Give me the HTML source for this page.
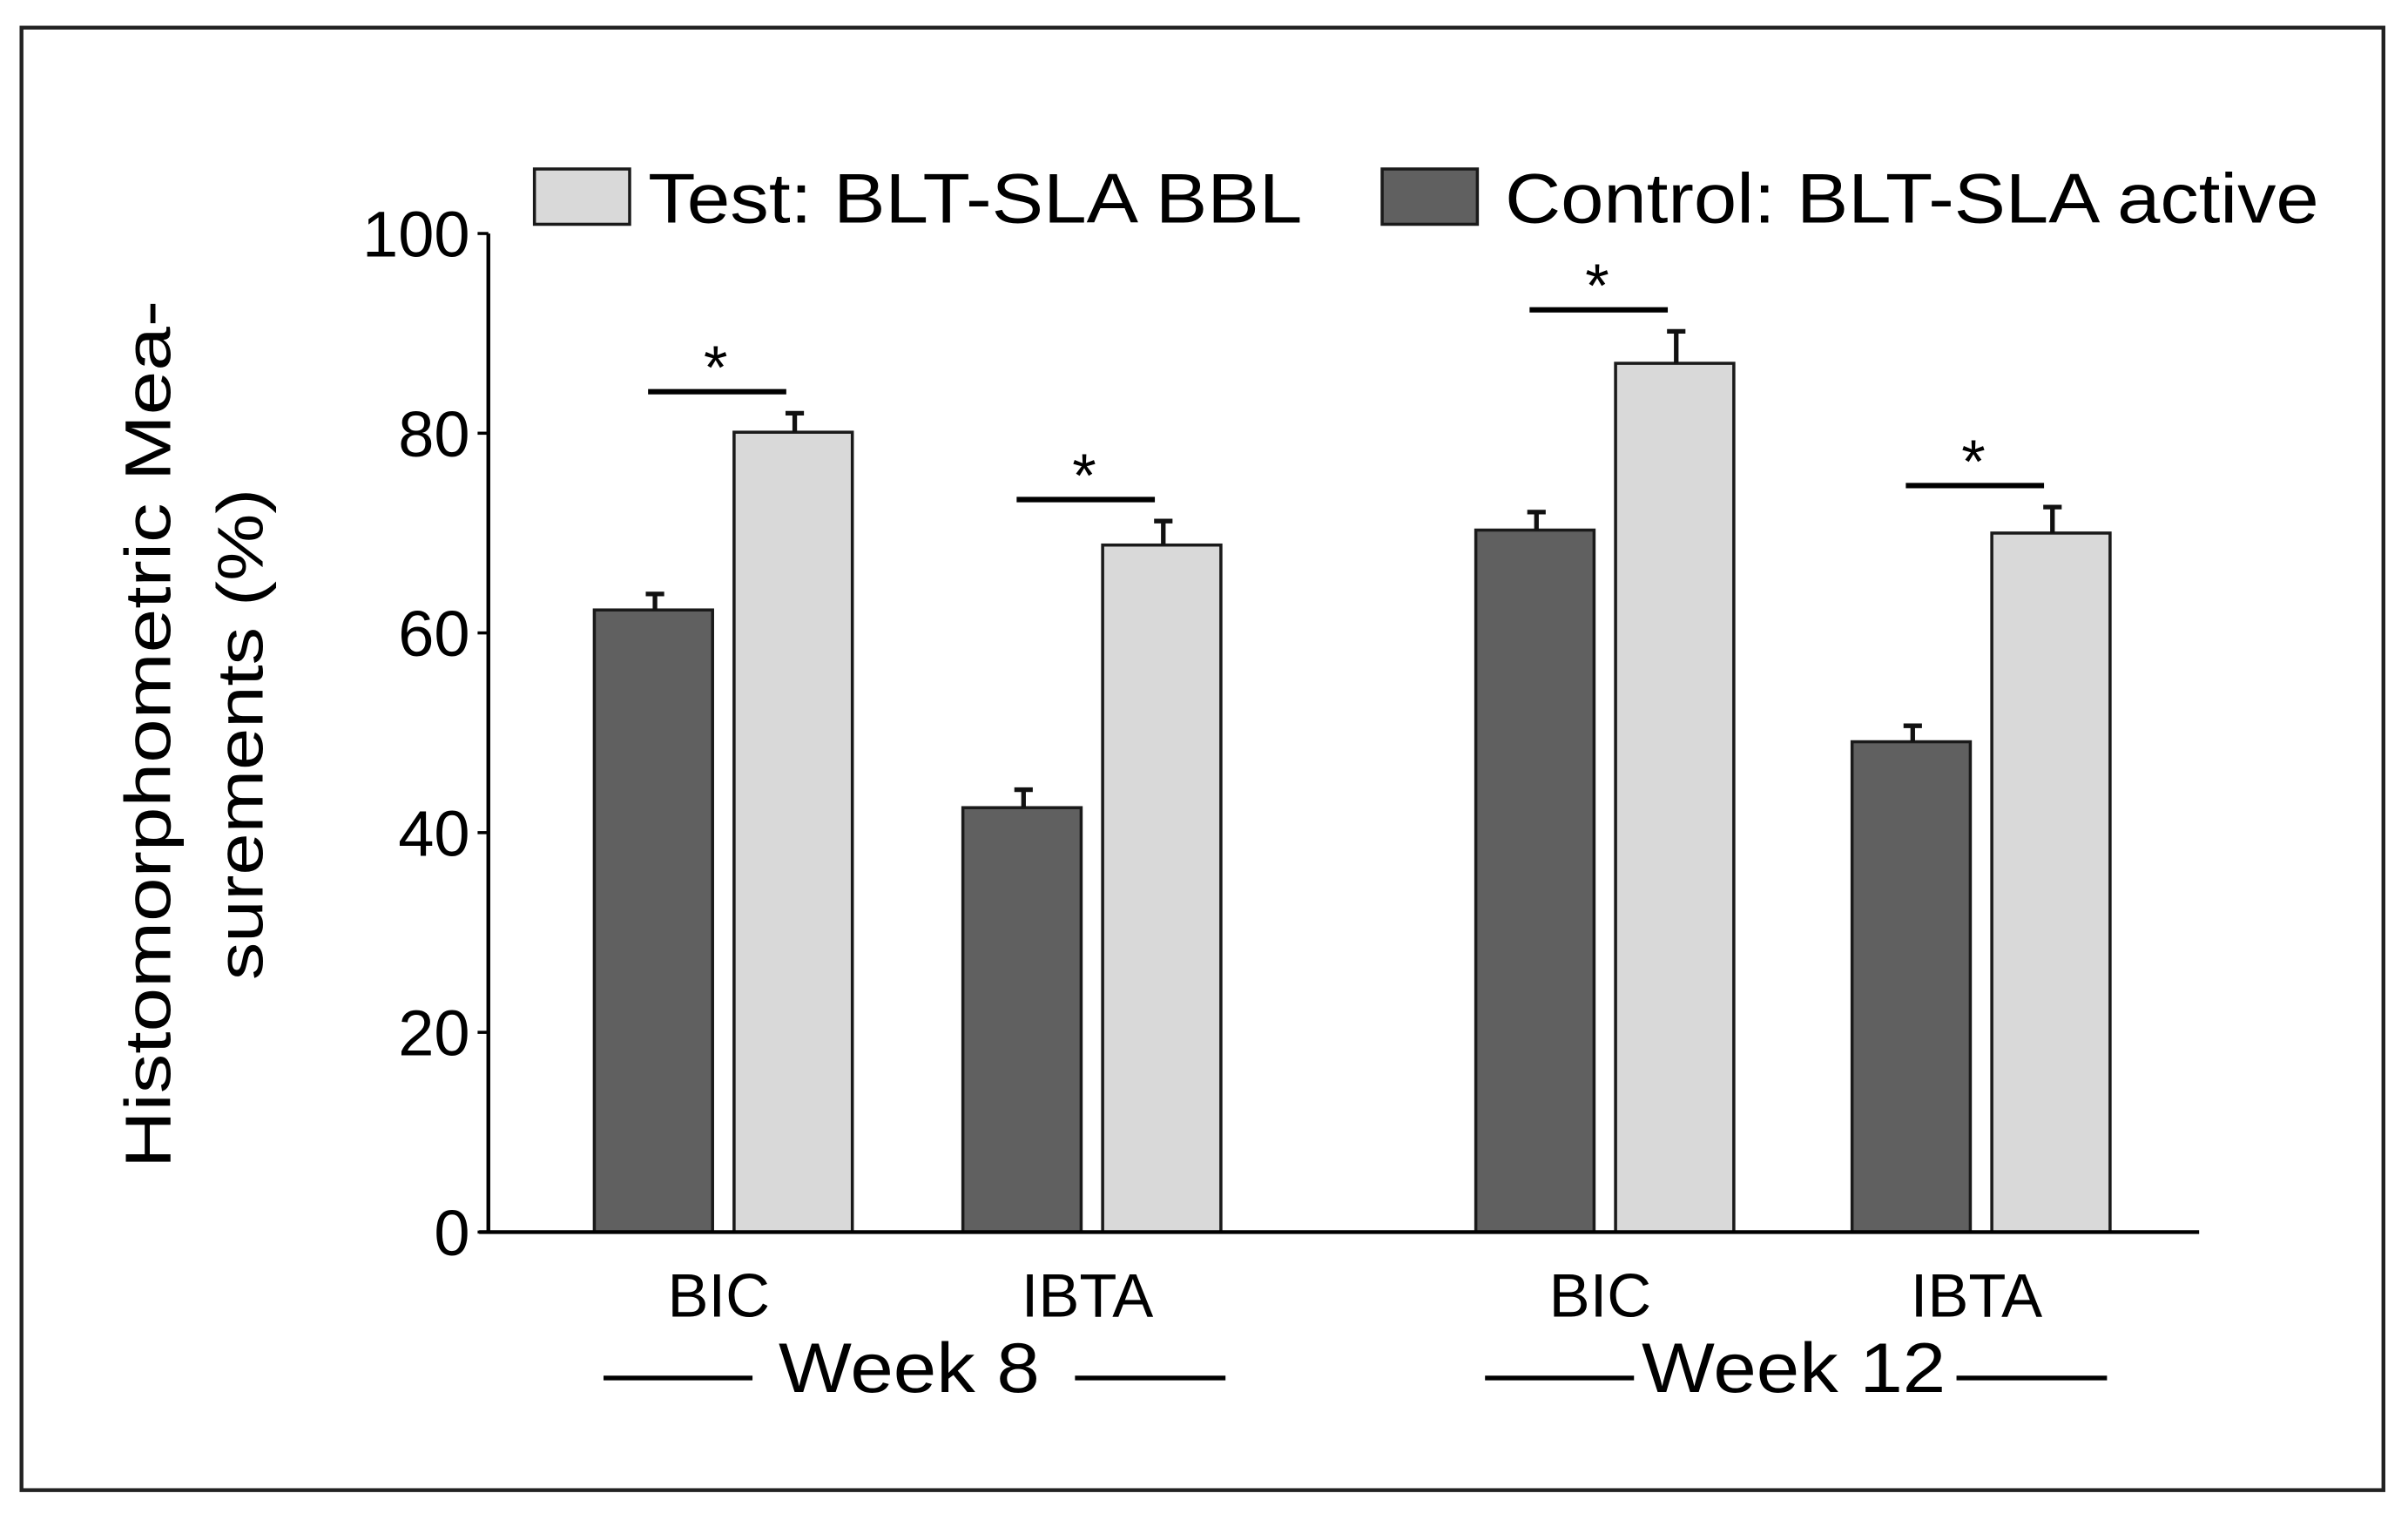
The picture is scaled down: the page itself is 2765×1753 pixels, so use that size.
<!DOCTYPE html>
<html><head><meta charset="utf-8"><style>
html,body{margin:0;padding:0;background:#fff;}
svg{display:block;font-family:"Liberation Sans",Arial,sans-serif;}
</style></head><body>
<svg id="chart" width="2765" height="1753" viewBox="0 0 1568 994" preserveAspectRatio="none" xmlns="http://www.w3.org/2000/svg">
<rect x="14" y="18" width="1538" height="952" fill="#fff" stroke="#222" stroke-width="2.5"/>
<g id="plot"></g>
</svg>
<script>
const categories = ["BIC", "IBTA", "BIC", "IBTA"];
const controlValues = [62.3, 42.5, 70.3, 49.1];
const controlErrors = [1.6, 1.8, 1.8, 1.6];
const testValues = [80.1, 68.8, 87.0, 70.0];
const testErrors = [1.9, 2.4, 3.2, 2.6];
const yTicks = [0, 20, 40, 60, 80, 100];
const weekLabels = ["Week 8", "Week 12"];

const NS = "http://www.w3.org/2000/svg";
const g = document.getElementById("plot");
const y0 = 802, y100 = 152, axisX = 318;
function yScale(v){ return y0 + (y100 - y0) * v / 100; }
const groupCenters = [471, 711, 1045, 1290];
const barW = 77, gap = 14;
function mk(tag, attrs, parent){ const e = document.createElementNS(NS, tag); for (const k in attrs) e.setAttribute(k, attrs[k]); (parent||g).appendChild(e); return e; }

let yAxis = mk("line", {x1:axisX, y1:y100, x2:axisX, y2:y0, stroke:"#000", "stroke-width":2.5});


yTicks.forEach(t => {
  const tk = mk("line", {x1:axisX-7, y1:yScale(t), x2:axisX, y2:yScale(t), stroke:"#000", "stroke-width":2});
  
  
  const tl = mk("text", {x:306, y:yScale(t)+15, "text-anchor":"end", "font-size":42});
  tl.textContent = t;
  
  
});

categories.forEach((c, i) => {
  const cx = groupCenters[i];
  const xc = cx - gap/2 - barW, xt = cx + gap/2;
  [[xc, controlValues[i], controlErrors[i], "#606060", "control"], [xt, testValues[i], testErrors[i], "#d9d9d9", "test"]].forEach(([x, v, e, fill, nm]) => {
    const b = mk("rect", {x:x, y:yScale(v), width:barW, height:y0 - yScale(v), fill:fill, stroke:"#1a1a1a", "stroke-width":2});
    
    
    const ex = x + barW/2 + 1;
    const el = mk("path", {d:`M${ex},${yScale(v)} V${yScale(v+e)} M${ex-6},${yScale(v+e)} H${ex+6}`, stroke:"#111", "stroke-width":3, fill:"none"});
    
    
  });
  const sy = yScale(Math.max(testValues[i] + testErrors[i], controlValues[i] + controlErrors[i])) - 14;
  const sl = mk("line", {x1:cx-49, y1:sy, x2:cx+41, y2:sy, stroke:"#000", "stroke-width":3.5});
  
  
  const st = mk("text", {x:cx-5, y:sy-2, "text-anchor":"middle", "font-size":40});
  st.textContent = "*";
  
  
  const cl = mk("text", {x:cx-3, y:857, "text-anchor":"middle", "font-size":40});
  cl.textContent = c;
  
  
});

let xAxis = mk("line", {x1:312, y1:y0, x2:1432, y2:y0, stroke:"#000", "stroke-width":2.5});



const weekPos = [[592, 393, 490, 700, 798, 170], [1168, 967, 1064, 1274, 1372, 198]];
weekLabels.forEach((w, i) => {
  const p = weekPos[i];
  const t = mk("text", {x:p[0], y:906, "text-anchor":"middle", "font-size":46, textLength:p[5], lengthAdjust:"spacingAndGlyphs"});
  t.textContent = w;
  
  
  const l = mk("path", {d:`M${p[1]},897 H${p[2]} M${p[3]},897 H${p[4]}`, stroke:"#000", "stroke-width":3});
  
  
});

const yt = mk("text", {transform:"translate(111,478) rotate(-90)", "text-anchor":"middle", "font-size":42});


const t1 = mk("tspan", {x:0, y:0, textLength:565, lengthAdjust:"spacingAndGlyphs"}, yt); t1.textContent = "Histomorphometric Mea-";
const t2 = mk("tspan", {x:0, y:60, textLength:320, lengthAdjust:"spacingAndGlyphs"}, yt); t2.textContent = "surements (%)";

const lg = mk("g", {});


const lb1 = mk("rect", {x:348, y:110, width:62, height:36, fill:"#d9d9d9", stroke:"#1a1a1a", "stroke-width":2}, lg);


const lt1 = mk("text", {x:422, y:145, "font-size":46, textLength:426, lengthAdjust:"spacingAndGlyphs"}, lg); lt1.textContent = "Test: BLT-SLA BBL";


const lb2 = mk("rect", {x:900, y:110, width:62, height:36, fill:"#606060", stroke:"#1a1a1a", "stroke-width":2}, lg);


const lt2 = mk("text", {x:980, y:145, "font-size":46, textLength:530, lengthAdjust:"spacingAndGlyphs"}, lg); lt2.textContent = "Control: BLT-SLA active";


</script>
</body></html>
